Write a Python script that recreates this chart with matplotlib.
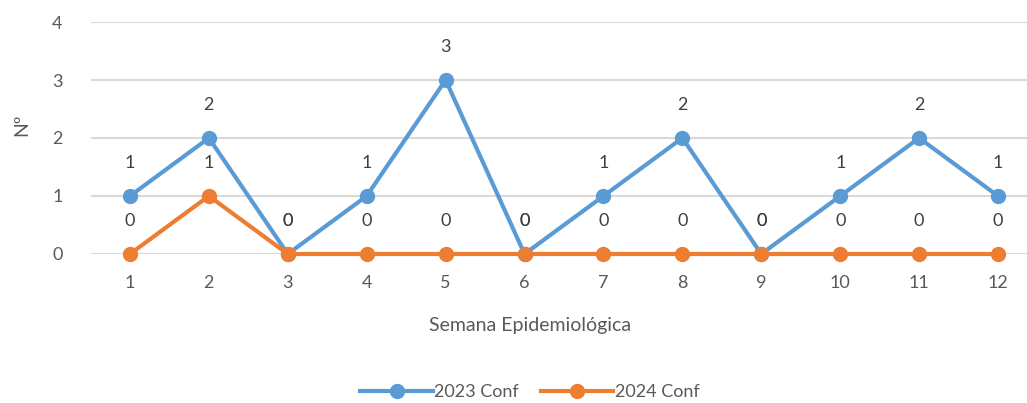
import matplotlib
matplotlib.use("Agg")
import matplotlib.pyplot as plt

weeks = [1, 2, 3, 4, 5, 6, 7, 8, 9, 10, 11, 12]
week_labels = [str(w) for w in weeks]
conf_2023 = [1, 2, 0, 1, 3, 0, 1, 2, 0, 1, 2, 1]
conf_2024 = [0, 1, 0, 0, 0, 0, 0, 0, 0, 0, 0, 0]
series_names = ["2023 Conf", "2024 Conf"]
y_ticks = [0, 1, 2, 3, 4]

blue = "#5B9BD5"
orange = "#ED7D31"
text_c = "#595959"
plt.rcParams['font.family'] = ['Lato', 'DejaVu Sans']

fig = plt.figure(figsize=(10.27, 4.03), dpi=100)
ax = fig.add_axes([90.5/1027, 149/403, 947/1027, 232/403])

for vals, col, name in [(conf_2023, blue, series_names[0]), (conf_2024, orange, series_names[1])]:
    ax.plot(weeks, vals, color=col, lw=3, marker='o', ms=10, label=name, zorder=3, clip_on=False)
    for x, v in zip(weeks, vals):
        ax.annotate(str(v), (x, v), xytext=(0, 24), textcoords='offset points',
                    ha='center', va='center', fontsize=13, color='#404040')

ax.set_xlim(0.5, 12.5)
ax.set_ylim(0, 4)
ax.set_yticks(y_ticks)
ax.set_yticklabels([str(t) for t in y_ticks])
ax.set_xticks(weeks)
ax.set_xticklabels(week_labels)
ax.grid(axis='y', color='#D9D9D9', lw=1.5, zorder=0)
ax.set_axisbelow(True)
for s in ax.spines.values():
    s.set_visible(False)
ax.tick_params(axis='both', length=0, labelsize=13, colors=text_c)
ax.tick_params(axis='x', pad=15)
ax.tick_params(axis='y', pad=20)

fig.text(22/1027, 1 - 125/403, "Nº", rotation=90, ha='center', va='center', fontsize=14, color=text_c)
fig.text(530/1027, 1 - 325/403, "Semana Epidemiológica", ha='center', va='center', fontsize=14, color=text_c)

leg = fig.legend(loc='center', bbox_to_anchor=(530/1027, 1 - 392/403), ncol=2, frameon=False,
                 fontsize=13, handlelength=4, columnspacing=1.2, handletextpad=0.1)
for t in leg.get_texts():
    t.set_color(text_c)

fig.savefig("out.png", dpi=100)
